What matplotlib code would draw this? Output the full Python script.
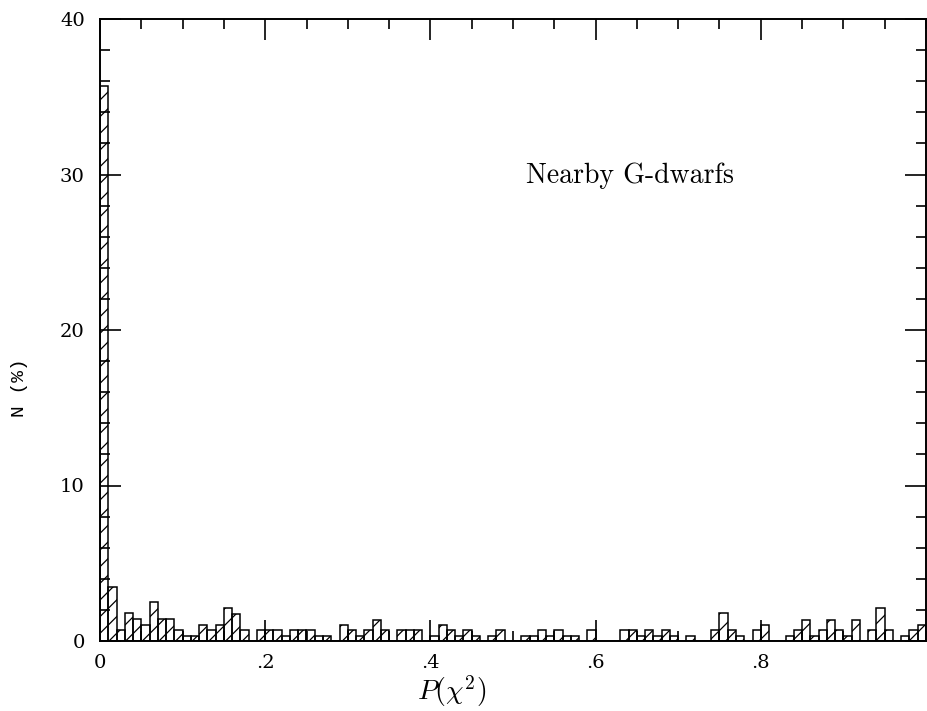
import numpy as np
import matplotlib
matplotlib.use("Agg")
import matplotlib.pyplot as plt
from matplotlib.ticker import MultipleLocator, FixedLocator

plt.rcParams['mathtext.fontset'] = 'cm'
plt.rcParams['hatch.linewidth'] = 0.9

# histogram of P(chi^2), 100 bins of width 0.01, values in percent
bin_width = 0.01
n_pct = [35.7, 3.5, 0.7, 1.8, 1.4, 1.0, 2.5, 1.4, 1.4, 0.7,
         0.33, 0.33, 1.0, 0.7, 1.0, 2.1, 1.75, 0.7, 0.0, 0.7,
         0.7, 0.7, 0.33, 0.7, 0.7, 0.7, 0.33, 0.33, 0.0, 1.0,
         0.7, 0.33, 0.7, 1.33, 0.7, 0.0, 0.7, 0.7, 0.7, 0.0,
         0.33, 1.0, 0.7, 0.33, 0.7, 0.33, 0.0, 0.33, 0.7, 0.0,
         0.0, 0.33, 0.33, 0.7, 0.33, 0.7, 0.33, 0.33, 0.0, 0.7,
         0.0, 0.0, 0.0, 0.7, 0.7, 0.33, 0.7, 0.33, 0.7, 0.33,
         0.0, 0.33, 0.0, 0.0, 0.7, 1.8, 0.7, 0.33, 0.0, 0.7,
         1.0, 0.0, 0.0, 0.33, 0.7, 1.33, 0.33, 0.7, 1.33, 0.7,
         0.33, 1.33, 0.0, 0.7, 2.1, 0.7, 0.0, 0.33, 0.7, 1.0]
left_edges = np.arange(len(n_pct)) * bin_width

x_ticks = [0, 0.2, 0.4, 0.6, 0.8]
x_labels = ['0', '.2', '.4', '.6', '.8']
y_ticks = [0, 10, 20, 30, 40]

fig = plt.figure(figsize=(9.28, 7.11), dpi=100)
ax = fig.add_axes([100/928, 70/711, 826/928, 622/711])

ax.bar(left_edges, n_pct, width=bin_width, align='edge', fill=False,
       hatch='//', edgecolor='black', linewidth=1.1)

ax.set_xlim(0, 1)
ax.set_ylim(0, 40)
ax.xaxis.set_major_locator(FixedLocator(x_ticks))
ax.set_xticklabels(x_labels)
ax.xaxis.set_minor_locator(MultipleLocator(0.05))
ax.yaxis.set_major_locator(FixedLocator(y_ticks))
ax.yaxis.set_minor_locator(MultipleLocator(2))
ax.tick_params(which='both', direction='in', top=True, right=True, width=1.2)
ax.tick_params(which='major', length=15)
ax.tick_params(which='minor', length=7.5)
ax.tick_params(axis='y', pad=11)
ax.tick_params(axis='x', pad=9)
for lab in ax.get_xticklabels() + ax.get_yticklabels():
    lab.set_family('DejaVu Serif')
    lab.set_fontsize(14)
for s in ax.spines.values():
    s.set_linewidth(1.4)

ax.set_xlabel(r'$P(\chi^2)$', fontsize=20)
ax.xaxis.set_label_coords(0.426, -0.052)
ax.set_ylabel('N (%)', fontsize=14, family='Liberation Mono')
ax.yaxis.set_label_coords(-0.087, 0.408)
ax.text(0.516, 29.9, 'Nearby G-dwarfs', fontsize=20, family='cmr10',
        va='center', ha='left')

fig.savefig('out.png', dpi=100)
